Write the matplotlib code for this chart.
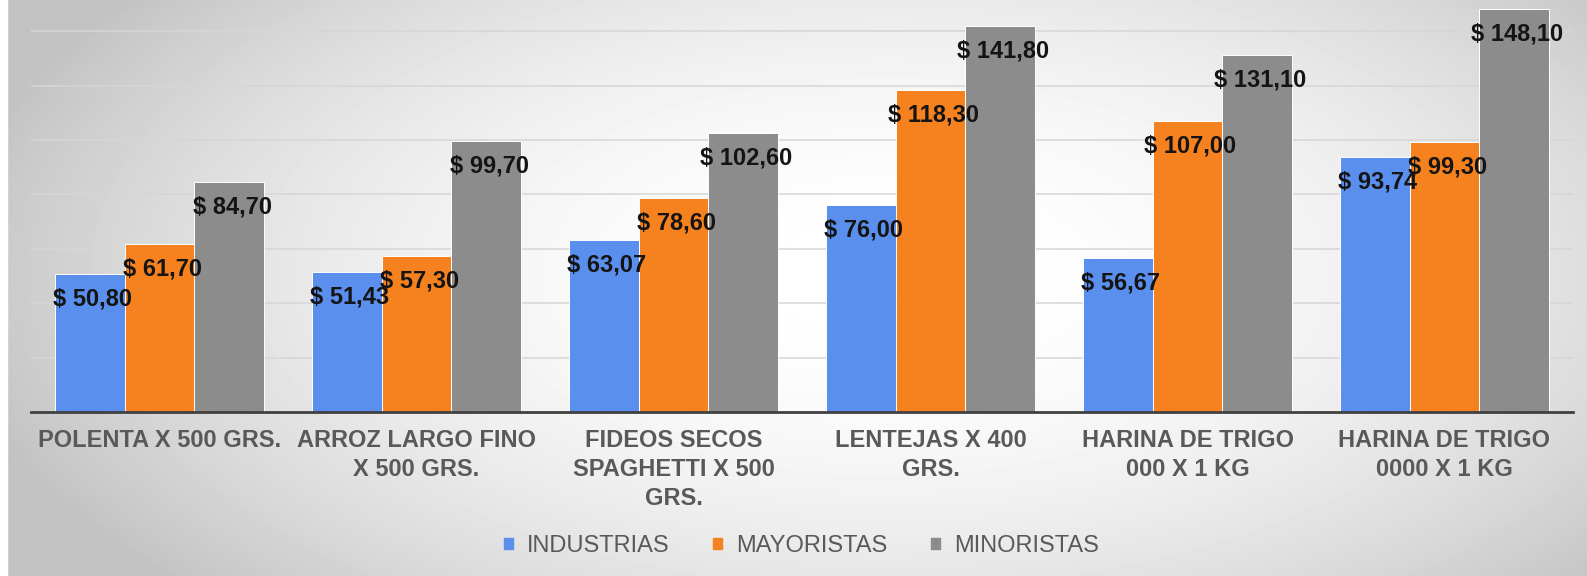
import numpy as np
import matplotlib
matplotlib.use('Agg')
import matplotlib.pyplot as plt
from matplotlib.patches import Patch

plt.rcParams['font.family'] = ['Liberation Sans', 'DejaVu Sans']

categories = ['POLENTA X 500 GRS.', 'ARROZ LARGO FINO\nX 500 GRS.',
              'FIDEOS SECOS\nSPAGHETTI X 500\nGRS.', 'LENTEJAS X 400\nGRS.',
              'HARINA DE TRIGO\n000 X 1 KG', 'HARINA DE TRIGO\n0000 X 1 KG']
series = ['INDUSTRIAS', 'MAYORISTAS', 'MINORISTAS']
industrias = [50.80, 51.43, 63.07, 76.00, 56.67, 93.74]
mayoristas = [61.70, 57.30, 78.60, 118.30, 107.00, 99.30]
minoristas = [84.70, 99.70, 102.60, 141.80, 131.10, 148.10]
colors = ['#5b8fee', '#f6821f', '#8c8c8c']

fig = plt.figure(figsize=(15.87, 5.76), dpi=100)

# radial grey background
bg = fig.add_axes([0, 0, 1, 1], zorder=-10)
xx, yy = np.meshgrid(np.linspace(0, 1, 400), np.linspace(0, 1, 150))
d2 = ((xx - 0.56) / 0.55) ** 2 + ((yy - 0.52) / 0.75) ** 2
g = np.clip(1 - 0.2 * d2, 0.76, 1)
bg.imshow(g, cmap='gray', vmin=0, vmax=1, extent=[0, 1, 0, 1], aspect='auto',
          origin='lower', interpolation='bilinear')
bg.axvspan(0, 7 / 1587, color='white')
bg.set_xlim(0, 1)
bg.set_ylim(0, 1)
bg.axis('off')

ax = fig.add_axes([31 / 1587, 164 / 576, 1542 / 1587, 412 / 576])
ax.patch.set_alpha(0)

x = np.arange(len(categories))
w = 0.272
for i, vals in enumerate([industrias, mayoristas, minoristas]):
    bars = ax.bar(x + (i - 1) * w, vals, w, color=colors[i], edgecolor='white',
                  linewidth=0.7, zorder=3, label=series[i])
    for b, v in zip(bars, vals):
        ax.annotate('$ ' + f'{v:.2f}'.replace('.', ','),
                    (b.get_x() + b.get_width() / 2, v), xytext=(2, -18),
                    textcoords='offset points', ha='center', va='center',
                    fontsize=17, fontweight='bold', color='#141414', zorder=5)

ax.set_xlim(-0.5, len(categories) - 0.5)
ax.set_ylim(0, 151.5)
ax.set_yticks(np.arange(20, 141, 20))
ax.yaxis.grid(True, color='#d6d6d6', linewidth=1.1, zorder=0)
ax.tick_params(axis='y', left=False, labelleft=False)
ax.set_xticks(x)
ax.set_xticklabels(categories, fontsize=17, fontweight='bold', color='#595959',
                   linespacing=1.35)
ax.tick_params(axis='x', length=0, pad=12)
for s in ['top', 'right', 'left']:
    ax.spines[s].set_visible(False)
ax.spines['bottom'].set_color('#404040')
ax.spines['bottom'].set_linewidth(2)
ax.spines['bottom'].set_zorder(4)

handles = [Patch(color=c) for c in colors]
fig.legend(handles, series, loc='center', bbox_to_anchor=(0.505, 0.052), ncol=3,
           frameon=False, fontsize=17, labelcolor='#595959',
           handlelength=0.38, handleheight=0.38, handletextpad=0.6,
           columnspacing=1.85)

fig.savefig('out.png', dpi=100)
